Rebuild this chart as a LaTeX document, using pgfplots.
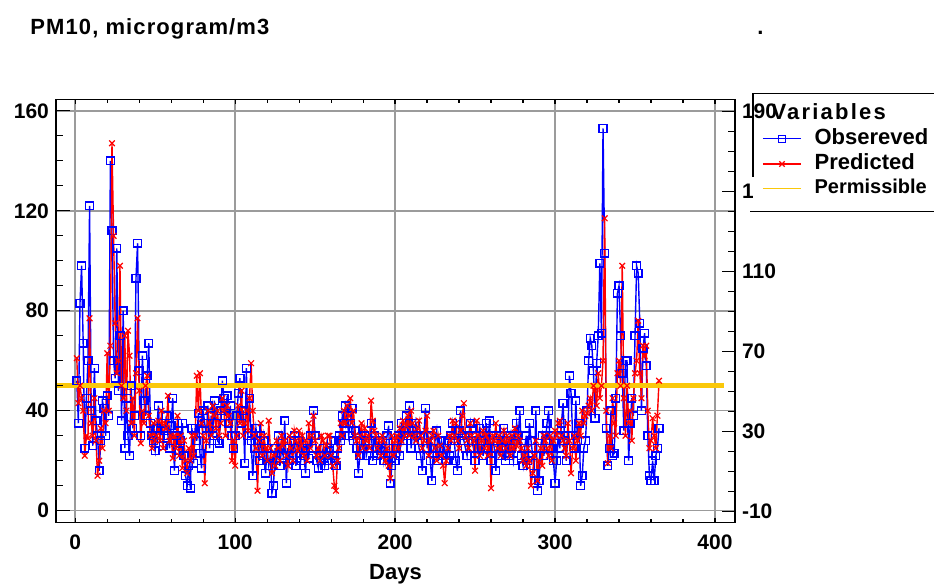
\documentclass[border=0pt]{standalone}
\usepackage{fontspec}
\setmainfont{Liberation Sans}
\newfontfamily\spaced[LetterSpace=10]{Liberation Sans}
\newfontfamily\titlefont[LetterSpace=5]{Liberation Sans}
\usepackage{pgfplots}
\usepackage{pgfplotstable}
\pgfplotsset{compat=1.18}

\definecolor{obsblue}{RGB}{0,0,255}
\definecolor{predred}{RGB}{255,0,0}
\definecolor{permyellow}{RGB}{250,200,10}
\definecolor{gridgray}{RGB}{155,155,155}

% day, observed, predicted
\pgfplotstableread[row sep=\\]{
d o p \\
1 52 61 \\ 2 35 43 \\ 3 83 50 \\ 4 98 45 \\ 5 67 40 \\ 6 25 22 \\ 7 45 30 \\ 8 60 29 \\ 9 122 77 \\ 10 40 35 \\
11 26 30 \\ 12 57 45 \\ 13 36 28 \\ 14 30 14 \\ 15 16 20 \\ 16 28 33 \\ 17 44 25 \\ 18 41 40 \\ 19 30 35 \\ 20 46 63 \\
21 38 40 \\ 22 140 66 \\ 23 112 147 \\ 24 60 110 \\ 25 53 75 \\ 26 105 55 \\ 27 48 60 \\ 28 70 98 \\ 29 36 50 \\ 30 80 45 \\
31 25 70 \\ 32 45 40 \\ 33 30 72 \\ 34 22 62 \\ 35 50 35 \\ 36 33 45 \\ 37 38 30 \\ 38 93 55 \\ 39 107 77 \\ 40 56 48 \\
41 30 27 \\ 42 62 40 \\ 43 44 35 \\ 44 38 50 \\ 45 54 54 \\ 46 67 38 \\ 47 35 30 \\ 48 30 25 \\ 49 28 35 \\ 50 24 28 \\
51 33 30 \\ 52 42 36 \\ 53 30 28 \\ 54 35 40 \\ 55 26 25 \\ 56 32 35 \\ 57 38 33 \\ 58 30 46 \\ 59 25 28 \\ 60 34 30 \\
61 45 21 \\ 62 16 30 \\ 63 30 25 \\ 64 35 38 \\ 65 24 22 \\ 66 28 30 \\ 67 35 17 \\ 68 22 28 \\ 69 14 20 \\ 70 10 15 \\
71 18 25 \\ 72 9 20 \\ 73 33 30 \\ 74 19 22 \\ 75 33 30 \\ 76 28 54 \\ 77 39 40 \\ 78 23 55 \\ 79 17 35 \\ 80 40 30 \\
81 35 11 \\ 82 30 28 \\ 83 42 40 \\ 84 25 35 \\ 85 38 30 \\ 86 30 42 \\ 87 44 38 \\ 88 35 33 \\ 89 28 40 \\ 90 27 30 \\
91 40 35 \\ 92 52 45 \\ 93 45 40 \\ 94 38 30 \\ 95 46 42 \\ 96 35 38 \\ 97 42 35 \\ 98 30 20 \\ 99 25 28 \\ 100 30 18 \\
101 38 30 \\ 102 47 42 \\ 103 53 35 \\ 104 35 48 \\ 105 40 30 \\ 106 19 35 \\ 107 57 40 \\ 108 30 32 \\ 109 45 45 \\ 110 28 59 \\
111 14 40 \\ 112 25 30 \\ 113 33 25 \\ 114 28 8 \\ 115 20 28 \\ 116 30 35 \\ 117 22 22 \\ 118 28 30 \\ 119 15 25 \\ 120 25 20 \\
121 18 36 \\ 122 22 25 \\ 123 7 15 \\ 124 10 22 \\ 125 25 18 \\ 126 20 28 \\ 127 30 25 \\ 128 18 20 \\ 129 25 30 \\ 130 22 26 \\
131 36 28 \\ 132 11 22 \\ 133 25 18 \\ 134 20 30 \\ 135 28 25 \\ 136 22 20 \\ 137 30 32 \\ 138 18 28 \\ 139 25 24 \\ 140 28 32 \\
141 20 26 \\ 142 25 30 \\ 143 22 22 \\ 144 15 28 \\ 145 27 20 \\ 146 21 35 \\ 147 30 25 \\ 148 25 30 \\ 149 40 38 \\ 150 30 28 \\
151 20 22 \\ 152 17 25 \\ 153 22 20 \\ 154 20 30 \\ 155 25 28 \\ 156 18 22 \\ 157 22 26 \\ 158 20 30 \\ 159 24 30 \\ 160 28 22 \\
161 22 18 \\ 162 20 10 \\ 163 18 8 \\ 164 25 20 \\ 165 30 25 \\ 166 28 35 \\ 167 38 30 \\ 168 35 40 \\ 169 42 35 \\ 170 38 42 \\
171 30 38 \\ 172 35 45 \\ 173 41 35 \\ 174 28 40 \\ 175 32 30 \\ 176 25 28 \\ 177 15 22 \\ 178 22 30 \\ 179 28 35 \\ 180 25 25 \\
181 30 33 \\ 182 22 28 \\ 183 25 30 \\ 184 28 25 \\ 185 35 44 \\ 186 20 36 \\ 187 30 32 \\ 188 25 30 \\ 189 22 25 \\ 190 28 28 \\
191 24 22 \\ 192 28 30 \\ 193 20 28 \\ 194 25 20 \\ 195 30 25 \\ 196 34 18 \\ 197 11 13 \\ 198 18 30 \\ 199 25 22 \\ 200 20 28 \\
201 25 30 \\ 202 30 25 \\ 203 22 33 \\ 204 35 28 \\ 205 28 36 \\ 206 32 30 \\ 207 38 34 \\ 208 30 38 \\ 209 42 30 \\ 210 25 40 \\
211 32 35 \\ 212 28 30 \\ 213 35 28 \\ 214 30 33 \\ 215 25 36 \\ 216 22 30 \\ 217 16 25 \\ 218 30 28 \\ 219 41 32 \\ 220 25 38 \\
221 30 22 \\ 222 20 28 \\ 223 12 30 \\ 224 25 32 \\ 225 28 25 \\ 226 32 20 \\ 227 20 30 \\ 228 25 26 \\ 229 28 22 \\ 230 22 18 \\
231 25 11 \\ 232 20 20 \\ 233 28 25 \\ 234 22 30 \\ 235 30 28 \\ 236 35 36 \\ 237 28 30 \\ 238 20 35 \\ 239 16 28 \\ 240 32 25 \\
241 40 32 \\ 242 30 38 \\ 243 28 43 \\ 244 25 30 \\ 245 22 28 \\ 246 30 25 \\ 247 35 35 \\ 248 28 30 \\ 249 25 28 \\ 250 20 16 \\
251 30 36 \\ 252 25 30 \\ 253 33 22 \\ 254 28 28 \\ 255 22 32 \\ 256 30 25 \\ 257 35 30 \\ 258 25 22 \\ 259 36 28 \\ 260 20 9 \\
261 30 30 \\ 262 25 28 \\ 263 16 35 \\ 264 28 25 \\ 265 22 30 \\ 266 30 22 \\ 267 25 28 \\ 268 33 32 \\ 269 20 25 \\ 270 28 30 \\
271 22 28 \\ 272 30 22 \\ 273 25 30 \\ 274 20 25 \\ 275 28 33 \\ 276 35 26 \\ 277 30 30 \\ 278 40 28 \\ 279 22 25 \\ 280 18 20 \\
281 25 22 \\ 282 30 18 \\ 283 20 25 \\ 284 35 20 \\ 285 28 10 \\ 286 22 15 \\ 287 15 22 \\ 288 40 28 \\ 289 8 12 \\ 290 12 20 \\
291 25 25 \\ 292 30 18 \\ 293 22 30 \\ 294 28 28 \\ 295 35 25 \\ 296 40 22 \\ 297 25 30 \\ 298 30 20 \\ 299 20 28 \\ 300 11 32 \\
301 20 30 \\ 302 30 35 \\ 303 25 36 \\ 304 35 30 \\ 305 43 28 \\ 306 28 25 \\ 307 20 22 \\ 308 30 35 \\ 309 54 28 \\ 310 47 15 \\
311 30 25 \\ 312 25 30 \\ 313 44 20 \\ 314 28 28 \\ 315 35 35 \\ 316 10 30 \\ 317 14 40 \\ 318 25 35 \\ 319 28 38 \\ 320 40 39 \\
321 60 42 \\ 322 69 45 \\ 323 66 40 \\ 324 56 50 \\ 325 37 48 \\ 326 59 42 \\ 327 70 55 \\ 328 99 45 \\ 329 71 50 \\ 330 153 60 \\
331 103 117 \\ 332 33 40 \\ 333 18 19 \\ 334 25 30 \\ 335 40 25 \\ 336 22 45 \\ 337 23 35 \\ 338 45 30 \\ 339 87 55 \\ 340 90 60 \\
341 70 50 \\ 342 55 98 \\ 343 32 45 \\ 344 60 30 \\ 345 60 50 \\ 346 20 35 \\ 347 35 40 \\ 348 45 28 \\ 349 38 45 \\ 350 70 55 \\
351 98 60 \\ 352 95 76 \\ 353 75 55 \\ 354 40 45 \\ 355 65 66 \\ 356 71 62 \\ 357 58 66 \\ 358 30 40 \\ 359 14 25 \\ 360 12 28 \\
361 20 37 \\ 362 12 30 \\ 363 22 25 \\ 364 25 38 \\ 365 33 52 \\
}\pmdata

\begin{document}
\begin{tikzpicture}
\useasboundingbox (-28pt,-31.65pt) rectangle (439pt,261.35pt);

% main axis: data, grid, x ticks, left tick labels
\begin{axis}[
  name=main, at={(0,0)}, anchor=south west,
  scale only axis, width=339.5pt, height=211.7pt,
  xmin=-12, xmax=412.5, ymin=-4.8, ymax=164.6,
  xtick={0,100,...,400}, minor x tick num=4,
  ytick={0,40,...,160}, minor y tick num=3,
  xtick pos=both, ytick pos=left, tick align=inside,
  major tick length=2.4pt, minor tick length=1.7pt,
  grid=major, major grid style={color=gridgray, line width=0.75pt},
  axis line style={line width=0.75pt},
  every tick/.style={black, line width=0.6pt},
  /pgf/number format/assume math mode=true,
  tick label style={font=\bfseries\fontsize{10.5}{12}\selectfont},
  xticklabel style={yshift=-2.7pt},
  xlabel={Days},
  xlabel style={at={(axis description cs:0.5,0)}, anchor=base, yshift=-28.5pt,
    font=\bfseries\fontsize{11}{13}\selectfont},
]
\addplot[obsblue, line width=0.7pt, mark=square, mark size=1.95pt,
  mark options={line width=0.7pt}] table[x=d, y=o] {\pmdata};
\addplot[predred, line width=0.7pt, mark=x, mark size=2pt,
  mark options={line width=0.6pt}] table[x=d, y=p] {\pmdata};
\addplot[permyellow, line width=2.5pt] coordinates {(-12,50) (405.5,50)};
\end{axis}

% long ticks of the left axis
\begin{axis}[
  at={(0,0)}, anchor=south west,
  scale only axis, width=339.5pt, height=211.7pt,
  xmin=-12, xmax=412.5, ymin=-4.8, ymax=164.6,
  xtick=\empty, ytick={0,40,...,160}, minor y tick num=3,
  ytick pos=left, tick align=inside, yticklabels={},
  major tick length=7pt, minor tick length=3.5pt,
  axis line style={line width=0.75pt},
  every tick/.style={black, line width=0.6pt},
]
\end{axis}

% right axis and legend
\begin{axis}[
  name=raxis, at={(0,0)}, anchor=south west,
  scale only axis, width=339.5pt, height=211.7pt,
  xmin=-12, xmax=412.5, ymin=-15.5, ymax=196.2,
  xtick=\empty, ytick={-10,30,...,190}, minor y tick num=3,
  ytick pos=right, yticklabel pos=right, tick align=inside,
  yticklabels={-10,30,70,110,150,{}},
  major tick length=6.7pt, minor tick length=3.3pt,
  axis line style={line width=0.75pt},
  every tick/.style={black, line width=0.6pt},
  tick label style={font=\bfseries\fontsize{10.5}{12}\selectfont},
  legend cell align=left,
  legend style={at={(1.0265,1.0142)}, anchor=north west, draw=none, fill=white,
    inner xsep=4.5pt, inner ysep=4.9pt, row sep=2.65pt, column sep=6.5pt,
    nodes={inner sep=0pt, text depth=2pt},
    font=\bfseries\fontsize{11}{13}\selectfont},
  legend image code/.code={\draw[mark repeat=2, mark phase=2]
    plot coordinates {(0pt,0pt) (9.5pt,0pt) (19pt,0pt)};},
]
\addlegendimage{empty legend}
\addlegendentry{\hspace*{-21.5pt}{\spaced Variables}}
\addlegendimage{obsblue, line width=0.6pt, mark=square, mark size=1.75pt, mark options={line width=0.6pt}}
\addlegendentry{Obsereved}
\addlegendimage{predred, line width=0.6pt, mark=x, mark size=1.9pt}
\addlegendentry{Predicted}
\addlegendimage{permyellow, line width=0.6pt}
\addlegendentry{\fontsize{10}{12}\selectfont Permissible}
\end{axis}

\draw[line width=0.6pt] (348.5pt,173pt) -- (348.5pt,214.7pt) -- (450pt,214.7pt);
\draw[line width=0.6pt] (347pt,155.5pt) -- (450pt,155.5pt);
\node[anchor=west, inner sep=0.3333em, font=\bfseries\fontsize{10.5}{12}\selectfont]
  at ([yshift=-6.2pt]raxis.north east) {190};

\node[anchor=base west, inner sep=0pt, font=\titlefont\bfseries\fontsize{11}{13}\selectfont]
  at (-13pt,244.35pt) {PM10, microgram/m3};
\node[anchor=base west, inner sep=0pt, font=\bfseries\fontsize{11}{13}\selectfont]
  at (350.5pt,244.35pt) {.};
\end{tikzpicture}
\end{document}
